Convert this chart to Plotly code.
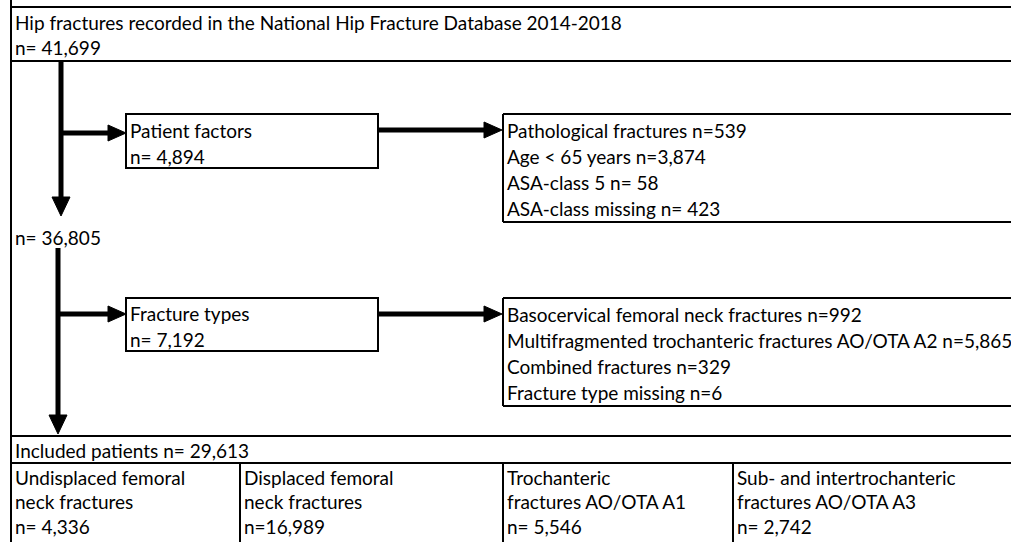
import plotly.graph_objects as go

# ---------------- data ----------------
title_text = "Hip fractures recorded in the National Hip Fracture Database 2014-2018"
n_total = 41699
n_after_patient = 36805
patient_box_label = "Patient factors"
patient_box_n = 4894
patient_labels = ["Pathological fractures", "Age &lt; 65 years", "ASA-class 5", "ASA-class missing"]
patient_counts = [539, 3874, 58, 423]
patient_sep = ["n=", "n=", "n= ", "n= "]
fracture_box_label = "Fracture types"
fracture_box_n = 7192
fracture_labels = ["Basocervical femoral neck fractures",
                   "Multifragmented trochanteric fractures AO/OTA A2",
                   "Combined fractures", "Fracture type missing"]
fracture_counts = [992, 5865, 329, 6]
fracture_sep = ["n=", "n=", "n=", "n="]
included_label = "Included patients"
n_included = 29613
group_labels = [["Undisplaced femoral", "neck fractures"],
                ["Displaced femoral", "neck fractures"],
                ["Trochanteric", "fractures AO/OTA A1"],
                ["Sub- and intertrochanteric", "fractures AO/OTA A3"]]
group_counts = [4336, 16989, 5546, 2742]
group_sep = ["n= ", "n=", "n= ", "n= "]

# ---------------- layout constants ----------------
W, H = 1011, 542
FONT = dict(family="Lato, Carlito, Calibri, sans-serif", size=19, color="black")
LW = 2
XL = 11          # left outer border
XR = 1030        # extends beyond the right edge
ARROW_W = 5

shapes = []
annotations = []


def line(x0, y0, x1, y1, w=LW):
    shapes.append(dict(type="line", x0=x0, y0=y0, x1=x1, y1=y1,
                       line=dict(color="black", width=w), layer="above"))


def rect(x0, y0, x1, y1):
    shapes.append(dict(type="rect", x0=x0, y0=y0, x1=x1, y1=y1,
                       line=dict(color="black", width=LW), fillcolor="rgba(0,0,0,0)"))


def text(x, y, s):
    annotations.append(dict(x=x, y=y, text=s, showarrow=False, xanchor="left",
                            yanchor="middle", font=FONT, xref="x", yref="y"))


def tri(path):
    shapes.append(dict(type="path", path=path, fillcolor="black",
                       line=dict(color="black", width=1)))


def arrow_down(x, y0, y1):
    shapes.append(dict(type="line", x0=x, y0=y0, x1=x, y1=y1 - 16,
                       line=dict(color="black", width=ARROW_W)))
    tri(f"M {x-9},{y1-19} L {x+9},{y1-19} L {x},{y1} Z")


def arrow_right(x0, x1, y):
    shapes.append(dict(type="line", x0=x0, y0=y, x1=x1 - 16, y1=y,
                       line=dict(color="black", width=ARROW_W)))
    tri(f"M {x1-18},{y-8} L {x1-18},{y+8} L {x1},{y} Z")


fmt = lambda v: f"{v:,}"

# outer left border
line(XL, 0, XL, H)

# top box
line(XL, 7, XR, 7)
line(XL, 61, XR, 61)
text(13, 22, title_text)
text(13, 47, "n= " + fmt(n_total))

# first branch
arrow_down(61, 61, 216)
arrow_right(61, 126, 133)
rect(126, 114, 378, 168)
text(128, 130, patient_box_label)
text(128, 156, "n= " + fmt(patient_box_n))
arrow_right(378, 502, 130)
line(503, 114, XR, 114)
line(503, 222, XR, 222)
line(503, 114, 503, 222)
for i, (lab, sep, c) in enumerate(zip(patient_labels, patient_sep, patient_counts)):
    text(505, 130 + 26.3 * i, f"{lab} {sep}{fmt(c)}")

text(13, 237, "n= " + fmt(n_after_patient))

# second branch
arrow_down(58, 248, 434)
arrow_right(58, 126, 314)
rect(126, 298, 378, 351)
text(128, 313, fracture_box_label)
text(128, 339, "n= " + fmt(fracture_box_n))
arrow_right(378, 502, 314)
line(503, 298, XR, 298)
line(503, 406, XR, 406)
line(503, 298, 503, 406)
for i, (lab, sep, c) in enumerate(zip(fracture_labels, fracture_sep, fracture_counts)):
    text(505, 314 + 26 * i, f"{lab} {sep}{fmt(c)}")

# included patients table
line(XL, 436, XR, 436)
text(13, 450, f"{included_label} n= {fmt(n_included)}")
line(XL, 463, XR, 463)
col_x = [11, 240, 503, 733]
for j, cx in enumerate(col_x):
    if j > 0:
        line(cx, 463, cx, H)
    lines_ = group_labels[j] + [group_sep[j] + fmt(group_counts[j])]
    for k, s in enumerate(lines_):
        text(cx + 2, 477 + 24.5 * k, s)

fig = go.Figure()
fig.update_layout(
    width=W, height=H, margin=dict(l=0, r=0, t=0, b=0),
    paper_bgcolor="white", plot_bgcolor="white",
    xaxis=dict(range=[0, W], visible=False, fixedrange=True),
    yaxis=dict(range=[H, 0], visible=False, fixedrange=True),
    shapes=shapes, annotations=annotations, showlegend=False,
)
fig.write_html("out.html", config={"displayModeBar": False},
               post_script="document.body.style.margin='0';document.body.style.overflow='hidden';")
